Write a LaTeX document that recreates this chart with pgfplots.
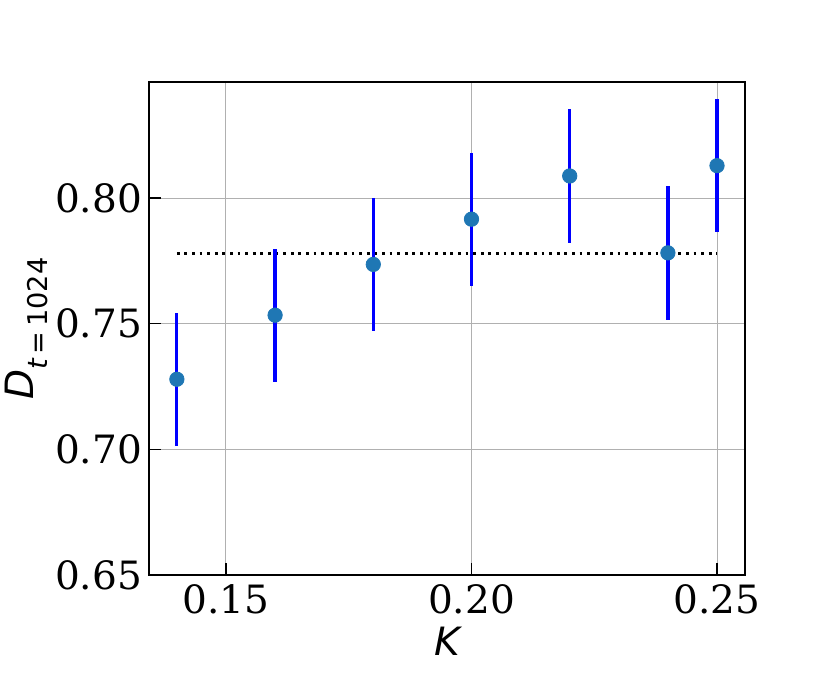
\documentclass[border=0pt]{standalone}
\usepackage{fontspec}
\setmainfont{DejaVu Serif}
\newfontfamily\labelfont{DejaVu Sans}
\usepackage{pgfplots}
\pgfplotsset{compat=1.18}
\definecolor{tabblue}{RGB}{31,119,180}
\definecolor{gridgray}{RGB}{176,176,176}

\begin{document}
\begin{tikzpicture}
\path[use as bounding box] (-74.5pt,-52.5pt) rectangle (341pt,287.5pt);
\begin{axis}[
    at={(0,0)}, anchor=south west,
    scale only axis, width=298pt, height=246.5pt,
    xmin=0.13432, xmax=0.2557, ymin=0.65, ymax=0.8462,
    xtick={0.15,0.20,0.25}, ytick={0.65,0.70,0.75,0.80},
    xticklabels={0.15,0.20,0.25}, yticklabels={0.65,0.70,0.75,0.80},
    tick pos=left, tick align=inside,
    major tick length=6pt,
    every tick/.style={black, line width=0.7pt},
    axis line style={line width=0.6pt},
    grid=major, grid style={gridgray, line width=0.5pt},
    tick label style={font=\fontsize{19.5}{23}\selectfont},
    xticklabel style={yshift=-1pt},
    /pgf/number format/assume math mode=true,
    xlabel={\itshape K},
    ylabel={{\itshape D}\raisebox{-0.35em}{\fontsize{13.6}{16}\selectfont{\itshape t}\,=\,1024}},
    every axis x label/.style={at={(axis description cs:0.5,-0.134)}, anchor=center,
        font=\fontsize{19.5}{23}\selectfont\labelfont},
    every axis y label/.style={at={(axis description cs:-0.206,0.5)}, rotate=90, anchor=center,
        font=\fontsize{19.5}{23}\selectfont\labelfont},
    clip=false,
]
\addplot[black, line width=1.4pt, dash pattern=on 1.4pt off 2.4pt] coordinates {(0.14,0.778) (0.25,0.778)};
\addplot[only marks, mark=*, mark size=3.6pt, mark options={fill=tabblue, draw=tabblue},
    error bars/.cd, y dir=both, y explicit, error mark=none,
    error bar style={blue, line width=1.6pt}]
    coordinates {
    (0.14,0.7279) +- (0,0.0265)
    (0.16,0.7534) +- (0,0.0265)
    (0.18,0.7736) +- (0,0.0266)
    (0.20,0.7916) +- (0,0.0265)
    (0.22,0.8088) +- (0,0.0266)
    (0.24,0.7782) +- (0,0.0267)
    (0.25,0.8129) +- (0,0.0265)
    };
\end{axis}
\end{tikzpicture}
\end{document}
